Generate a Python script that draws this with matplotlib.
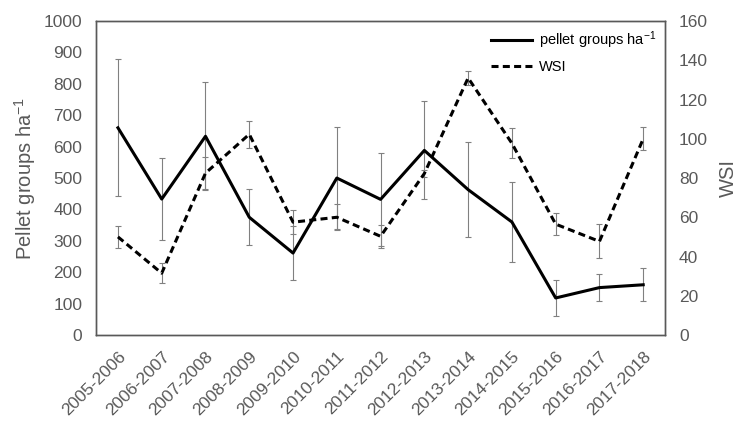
import numpy as np
import matplotlib
matplotlib.use("Agg")
import matplotlib.pyplot as plt

plt.rcParams['font.family'] = ['Liberation Sans', 'DejaVu Sans']
plt.rcParams['mathtext.fontset'] = 'custom'
plt.rcParams['mathtext.rm'] = 'Liberation Sans'
plt.rcParams['mathtext.it'] = 'Liberation Sans:italic'
plt.rcParams['mathtext.bf'] = 'Liberation Sans:bold'

# data
seasons = ['2005-2006', '2006-2007', '2007-2008', '2008-2009', '2009-2010',
           '2010-2011', '2011-2012', '2012-2013', '2013-2014', '2014-2015',
           '2015-2016', '2016-2017', '2017-2018']
pellets = [660, 433, 633, 375, 261, 500, 432, 588, 463, 360, 118, 151, 160]
pellets_err = [218, 130, 172, 89, 85, 163, 148, 156, 152, 127, 57, 42, 52]
wsi = [50, 31.5, 82.5, 102.3, 57.5, 60, 50.3, 82.3, 131, 97.7, 56.5, 47.7, 100]
wsi_err = [5.5, 5, 8, 6.8, 6, 6.6, 6, 1.7, 3.5, 7.6, 5.5, 8.7, 5.8]

grey = '#595959'
errc = '#808080'

fig = plt.figure(figsize=(7.39, 4.26), dpi=100)
ax = fig.add_axes([0.130, 0.2136, 0.770, 0.737])
ax2 = ax.twinx()

x = np.arange(len(seasons))

ax.errorbar(x, pellets, yerr=pellets_err, fmt='none', ecolor=errc,
            elinewidth=0.8, capsize=2.5, capthick=0.8, zorder=2)
l1, = ax.plot(x, pellets, color='black', lw=2.2, zorder=3,
              label='pellet groups ha$^{\\mathrm{-1}}$')

ax2.errorbar(x, wsi, yerr=wsi_err, fmt='none', ecolor=errc,
             elinewidth=0.8, capsize=2.5, capthick=0.8, zorder=2)
l2, = ax2.plot(x, wsi, color='black', lw=2.2, dashes=(2.3, 1.4), zorder=3,
               label='WSI')

ax.set_xlim(-0.5, len(seasons) - 0.5)
ax.set_ylim(0, 1000)
ax.set_yticks(np.arange(0, 1001, 100))
ax2.set_ylim(0, 160)
ax2.set_yticks(np.arange(0, 161, 20))

ax.set_xticks(x)
ax.set_xticklabels(seasons, rotation=45, ha='right', rotation_mode='anchor',
                   fontsize=12.5, color=grey)
ax.tick_params(axis='y', labelsize=12.5, labelcolor=grey, length=0, pad=10)
ax.tick_params(axis='x', length=0, pad=10)
ax2.tick_params(axis='y', labelsize=12.5, labelcolor=grey, length=0, pad=10)

ax.set_ylabel('Pellet groups ha$^{\\mathrm{-1}}$', fontsize=14.5, color=grey,
              labelpad=4)
ax2.set_ylabel('WSI', fontsize=14.5, color=grey, labelpad=8)

for a in (ax, ax2):
    for s in a.spines.values():
        s.set_color(grey)
        s.set_linewidth(1.0)

ax2.legend(handles=[l1, l2], loc='upper right', frameon=False, fontsize=10.5,
           handlelength=2.8, handletextpad=0.5, borderaxespad=0.2,
           labelspacing=0.6)

fig.savefig('out.png', dpi=100)
